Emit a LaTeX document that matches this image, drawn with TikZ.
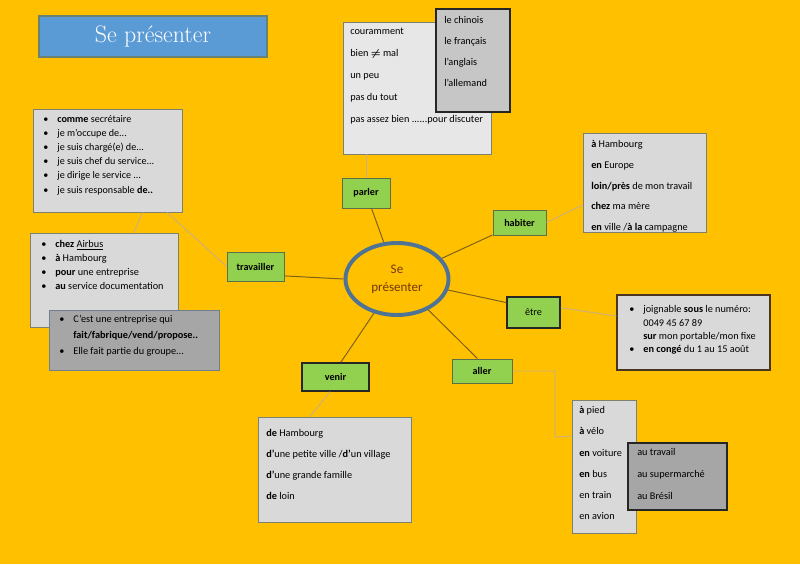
\documentclass[tikz,border=0pt]{standalone}
\usepackage{fontspec}
\usepackage{tikz}
\usetikzlibrary{shapes.geometric,fit}
\newfontfamily\calib{Carlito}

\definecolor{fond}{HTML}{FFC000}
\definecolor{vert}{HTML}{92D050}
\definecolor{bordvert}{HTML}{5E6E45}
\definecolor{bleutitre}{HTML}{5B9BD5}
\definecolor{bordtitre}{HTML}{6A8272}
\definecolor{grisclair}{HTML}{D9D9D9}
\definecolor{grisparler}{HTML}{E8E7E7}
\definecolor{grislangue}{HTML}{C6C6C6}
\definecolor{grisfonce}{HTML}{A6A6A6}
\definecolor{bordgris}{HTML}{80806F}
\definecolor{bordbrun}{HTML}{4A3520}
\definecolor{bordbleu}{HTML}{6F7F8F}
\definecolor{cercle}{HTML}{4F7394}
\definecolor{brunrouge}{HTML}{74380C}
\definecolor{lienfonce}{HTML}{80601A}
\definecolor{lienpale}{HTML}{CDB07A}

\newcommand\hautligne{\rule{0pt}{6.5pt}}
\newcommand\puce{\makebox[10pt][l]{\textbullet}}
\newcommand\retrait{\makebox[10pt]{}}

\begin{document}
\begin{tikzpicture}[x=0.025cm,y=-0.025cm,
    verbe/.style={draw=bordvert, fill=vert, line width=0.7pt, inner sep=0,
      font={\calib\bfseries\fontsize{7.2}{8}\selectfont}},
    verbefort/.style={verbe, draw=black!85, line width=1.1pt},
    boite/.style={draw=bordgris, fill=grisclair, line width=0.7pt, inner sep=0},
    boitefonce/.style={boite, draw=black!85, fill=grisfonce, line width=1.1pt},
    texte/.style={anchor=north west, inner sep=0, align=left},
    lien/.style={draw=lienfonce, line width=0.7pt},
    lienclair/.style={draw=lienpale, line width=0.7pt}]

  % fond orange
  \fill[fond] (0,0) rectangle (800,564);

  % titre
  \node[draw=bordtitre, fill=bleutitre, line width=0.8pt, minimum width=5.7cm,
    minimum height=1.025cm, text=white, font={\fontsize{17}{20}\selectfont}]
    (titre) at (153,36.5) {Se présenter};

  % centre
  \node[ellipse, draw=cercle, line width=2.8pt, minimum width=2.575cm,
    minimum height=1.8cm, align=center, text=brunrouge,
    font={\calib\fontsize{9.3}{12.6}\selectfont}] (centre) at (397,279) {Se\\présenter};

  % parler
  \node[boite, fill=grisparler, fit={(343,22) (491,154)}] (parlerbox) {};
  \node[texte, font={\calib\fontsize{7.3}{15.6}\selectfont}] (parlertxt) at (350,25.3)
    {\hautligne couramment\\bien {\boldmath$\neq$} mal\\un peu\\pas du tout\\pas assez bien ......pour discuter};
  \node[boitefonce, fill=grislangue, line width=1.6pt, fit={(436,9) (510,112)}] (languebox) {};
  \node[texte, font={\calib\fontsize{7.3}{14.9}\selectfont}] (languetxt) at (444,14.3)
    {\hautligne le chinois\\le français\\l’anglais\\l’allemand};
  \node[verbe, minimum width=1.2cm, minimum height=0.75cm] (parler) at (366,193) {parler};

  % habiter
  \node[verbe, minimum width=1.325cm, minimum height=0.625cm] (habiter) at (519.5,222.5) {habiter};
  \node[boite, fit={(583,133) (706,232)}] (habbox) {};
  \node[texte, font={\calib\fontsize{7.3}{14.75}\selectfont}] (habtxt) at (591,138.3)
    {\hautligne\textbf{à} Hambourg\\\textbf{en} Europe\\\textbf{loin/près} de mon travail\\\textbf{chez} ma mère\\\textbf{en} ville /\textbf{à la} campagne};

  % travailler
  \node[verbe, minimum width=1.425cm, minimum height=0.725cm] (travailler) at (255.5,266.5) {travailler};
  \node[boite, fit={(33,109) (182,212)}] (jobbox) {};
  \node[texte, font={\calib\fontsize{7.2}{10}\selectfont}] (jobtxt) at (43,113.3)
    {\hautligne\puce\textbf{comme} secrétaire\\\puce je m’occupe de...\\\puce je suis chargé(e) de...\\\puce je suis chef du service...\\\puce je dirige le service ...\\\puce je suis responsable \textbf{de..}};
  \node[boite, fit={(30,233) (178,327)}] (lieubox) {};
  \node[texte, font={\calib\fontsize{7.3}{10}\selectfont}] (lieutxt) at (41,238.3)
    {\hautligne\puce\textbf{chez} \underline{Airbus}\\\puce\textbf{à} Hambourg\\\puce\textbf{pour} une entreprise\\\puce\textbf{au} service documentation};
  \node[boite, draw=bordbleu, fill=grisfonce, fit={(49,310) (219,370)}] (groupebox) {};
  \node[texte, font={\calib\fontsize{7.3}{11.4}\selectfont}] (groupetxt) at (59,313.3)
    {\hautligne\puce C’est une entreprise qui\\\retrait\textbf{fait/fabrique/vend/propose..}\\\puce Elle fait partie du groupe...};

  % etre
  \node[verbefort, font={\calib\fontsize{7.2}{8}\selectfont}, minimum width=1.325cm, minimum height=0.775cm] (etre) at (533.5,312.5) {être};
  \node[boite, draw=bordbrun, line width=1pt, fit={(617,295) (770,370)}] (etrebox) {};
  \node[texte, font={\calib\fontsize{7.3}{9.5}\selectfont}] (etretxt) at (629,303.3)
    {\hautligne\puce joignable \textbf{sous} le numéro:\\\retrait 0049 45 67 89\\\retrait\textbf{sur} mon portable/mon fixe\\\puce\textbf{en congé} du 1 au 15 août};

  % aller
  \node[verbe, minimum width=1.5cm, minimum height=0.6cm] (aller) at (482,371) {aller};
  \node[boite, fit={(572,400) (636,533)}] (allerbox) {};
  \node[texte, font={\calib\fontsize{7.3}{15.1}\selectfont}] (allertxt) at (579,404.3)
    {\hautligne\textbf{à} pied\\\textbf{à} vélo\\\textbf{en} voiture\\\textbf{en} bus\\en train\\en avion};
  \node[boitefonce, fit={(628,443) (727,510)}] (butbox) {};
  \node[texte, font={\calib\fontsize{7.3}{15.6}\selectfont}] (buttxt) at (637,446.3)
    {\hautligne au travail\\au supermarché\\au Brésil};
  \coordinate (coude) at (555,437);

  % venir
  \node[verbefort, minimum width=1.675cm, minimum height=0.7cm] (venir) at (335.5,377) {venir};
  \node[boite, fit={(258,417) (411,522)}] (venirbox) {};
  \node[texte, font={\calib\fontsize{7.3}{14.9}\selectfont}] (venirtxt) at (266,427.3)
    {\hautligne\textbf{de} Hambourg\\\textbf{d’}une petite ville /\textbf{d’}un village\\\textbf{d’}une grande famille\\\textbf{de} loin};

  % liens vers le centre
  \draw[lien] (centre) -- (parler);
  \draw[lien] (centre) -- (habiter);
  \draw[lien] (travailler.-18) -- (centre.west);
  \draw[lien] (centre) -- (etre.160);
  \draw[lien] (centre) -- (aller.110);
  \draw[lien] (centre) -- (venir.70);

  % liens vers les boites
  \draw[lienclair] (parler.north) -- (parler.north |- parlerbox.south);
  \draw[lienclair] (habiter.east) -- (habbox.200);
  \draw[lienclair] (travailler.west) -- (jobbox.-41);
  \draw[lienclair] (jobbox.-56) -- (lieubox.58);
  \draw[lienclair] (etre.10) -- (etrebox.168);
  \draw[lienclair] (aller.east) -| (coude) -- (allerbox.137);
  \draw[lienclair] (venir.-110) -- (venirbox.115);
\end{tikzpicture}
\end{document}
